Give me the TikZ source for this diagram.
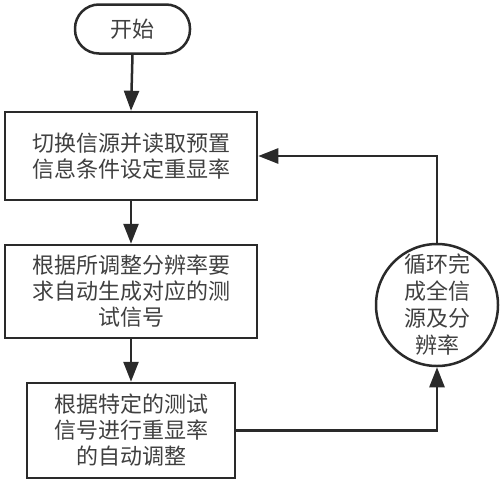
\documentclass[tikz,border=0pt]{standalone}
\usepackage{fontspec}
\setmainfont{Noto Sans CJK SC}
\usetikzlibrary{arrows.meta}
\definecolor{linec}{HTML}{2A2A2A}
\definecolor{textc}{HTML}{404040}
\begin{document}
\begin{tikzpicture}[x=1pt,y=-1pt,
  every node/.style={text=textc,font=\fontsize{22pt}{26pt}\selectfont,align=center,inner sep=0pt},
  boxnode/.style={draw=linec,line width=2.5pt,rectangle},
  flow/.style={draw=linec,line width=2.5pt,-{Triangle[length=20pt,width=15pt]}}]
\useasboundingbox (0,0) rectangle (500,482);
\node[boxnode,rounded corners=24pt,minimum width=115pt,minimum height=49pt] (start) at (132.5,29) {开始};
\node[boxnode,minimum width=252pt,minimum height=88pt] (b1) at (131,156) {切换信源并读取预置\\信息条件设定重显率};
\node[boxnode,minimum width=252pt,minimum height=93pt] (b2) at (131,291.5) {根据所调整分辨率要\\求自动生成对应的测\\试信号};
\node[boxnode,minimum width=208pt,minimum height=95pt] (b3) at (131,430.5) {根据特定的测试\\信号进行重显率\\的自动调整};
\node[draw=linec,line width=2.5pt,circle,minimum size=122pt,font=\fontsize{22pt}{27pt}\selectfont] (c) at (437,305) {循环完\\成全信\\源及分\\辨率};
\draw[flow] (start.south) -- (b1.north);
\draw[flow] (b1.south) -- (b2.north);
\draw[flow] (b2.south) -- (b3.north);
\draw[flow] (b3.east) -| (c.south);
\draw[flow] (c.north) |- (b1.east);
\end{tikzpicture}
\end{document}
